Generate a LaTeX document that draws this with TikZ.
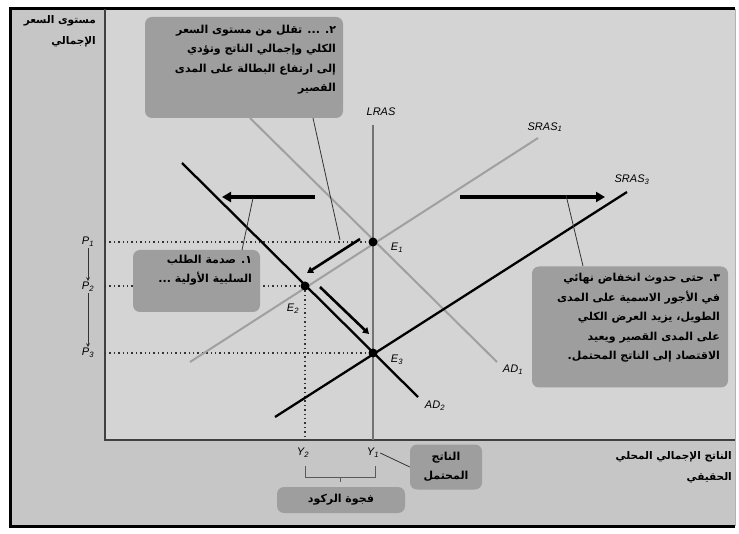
\documentclass[tikz,border=0pt]{standalone}
\usepackage{fontspec}
\usetikzlibrary{arrows.meta}
\newfontfamily\arabicfont[Script=Arabic]{DejaVu Sans}
\newfontfamily\curvefont{Liberation Sans}
\TeXXeTstate=1
\definecolor{plotgray}{RGB}{212,212,212}
\definecolor{stripgray}{RGB}{198,198,198}
\definecolor{boxgray}{RGB}{158,158,158}
\definecolor{lightcurve}{RGB}{160,160,160}
\tikzset{
  axis/.style={draw=black!75,line width=1.8pt},
  darkcurve/.style={line width=2.3pt},
  palecurve/.style={draw=lightcurve,line width=2pt},
  guide/.style={line width=1.4pt,dash pattern=on 1.4pt off 3pt,black!80},
  bigarrow/.style={line width=4pt,-{Triangle[length=9pt,width=10pt]}},
  movearrow/.style={line width=2.6pt,-{Triangle[length=6pt,width=7pt]}},
  pointer/.style={draw=black!80,line width=0.8pt},
  curvelabel/.style={font=\curvefont\itshape\fontsize{11}{11}\selectfont,inner sep=1pt},
  notebox/.style={fill=boxgray,rounded corners=7pt,inner sep=0pt},
  notetext/.style={font=\arabicfont\bfseries\fontsize{11}{19.5}\selectfont,align=right,inner sep=0pt},
  axistext/.style={font=\arabicfont\bfseries\fontsize{10.5}{21}\selectfont,align=right,inner sep=0pt},
  panel/.style={inner sep=0pt,outer sep=0pt,anchor=north west}
}

\begin{document}
\begin{tikzpicture}[x=1pt,y=-1pt]
\useasboundingbox (0,0) rectangle (739,534);
\node[panel,fill=stripgray,minimum width=725pt,minimum height=517pt] (frame) at (10,9) {};
\node[panel,fill=plotgray,minimum width=630pt,minimum height=431pt] (plot) at (105,9) {};
\draw[line width=3pt] (frame.north east) -- (frame.north west) -- (frame.south west) -- (frame.south east);
\draw[black!30,line width=1pt] (frame.north east) -- (frame.south east);
% axes
\coordinate (ytop) at (105,9);
\coordinate (origin) at (105,440);
\coordinate (xend) at (735,440);
\draw[axis] (ytop) -- (origin) -- (xend);
% equilibria
\coordinate (E1) at (373,242);
\coordinate (E2) at (305,286);
\coordinate (E3) at (373,353);
\coordinate (P1) at (105,242);
\coordinate (P2) at (105,286);
\coordinate (P3) at (105,353);
\coordinate (Y2) at (305,440);
\coordinate (Y1) at (373,440);
\draw[guide] (P1) -- (E1);
\draw[guide] (P2) -- (E2);
\draw[guide] (P3) -- (E3);
\draw[guide] (E2) -- (Y2);
% the curves
\coordinate (lras) at (373,125);
\coordinate (sras1a) at (190,362);
\coordinate (sras1b) at (538,138);
\coordinate (ad1a) at (250,118);
\coordinate (ad1b) at (497,362);
\coordinate (sras3a) at (275,417);
\coordinate (sras3b) at (627,192);
\coordinate (ad2a) at (182,163);
\coordinate (ad2b) at (418,397);
\draw[palecurve] (ad1a) -- (ad1b);
\draw[palecurve] (sras1a) -- (sras1b);
\draw[draw=black!55,line width=2.4pt] (lras) -- (Y1);
\draw[darkcurve] (sras3a) -- (sras3b);
\draw[darkcurve] (ad2a) -- (ad2b);
\foreach \e in {E1,E2,E3}
  \fill (\e) circle (4.5pt);
% labels of the curves
\node[curvelabel] (lrastxt) at (381,112) {LRAS};
\node[curvelabel] (sras1txt) at (545,127) {SRAS\textsubscript{1}};
\node[curvelabel] (sras3txt) at (632,180) {SRAS\textsubscript{3}};
\node[curvelabel] (ad1txt) at (513,370) {AD\textsubscript{1}};
\node[curvelabel] (ad2txt) at (435,406) {AD\textsubscript{2}};
\node[curvelabel] (e1txt) at (397,248) {E\textsubscript{1}};
\node[curvelabel] (e2txt) at (293,309) {E\textsubscript{2}};
\node[curvelabel] (e3txt) at (397,360) {E\textsubscript{3}};
\node[curvelabel] (p1txt) at (88,242) {P\textsubscript{1}};
\node[curvelabel] (p2txt) at (88,287) {P\textsubscript{2}};
\node[curvelabel] (p3txt) at (88,353) {P\textsubscript{3}};
\node[curvelabel] (y2txt) at (303,453) {Y\textsubscript{2}};
\node[curvelabel] (y1txt) at (373,453) {Y\textsubscript{1}};
\draw[black!80,line width=0.8pt,-{Stealth[length=4pt,width=4pt]}] (p1txt) -- (p2txt);
\draw[black!80,line width=0.8pt,-{Stealth[length=4pt,width=4pt]}] (p2txt) -- (p3txt);
% shifts
\coordinate (adshift a) at (315,197);
\coordinate (adshift b) at (222,197);
\coordinate (srasshift a) at (460,197);
\coordinate (srasshift b) at (605,197);
\draw[bigarrow] (adshift a) -- (adshift b);
\draw[bigarrow] (srasshift a) -- (srasshift b);
\coordinate (fall a) at (360,239);
\coordinate (fall b) at (307,273);
\coordinate (slide a) at (320,287);
\coordinate (slide b) at (369,334);
\draw[movearrow] (fall a) -- (fall b);
\draw[movearrow] (slide a) -- (slide b);
% the notes
\node[notebox,minimum width=198,minimum height=101] (fallbox) at (244,67.5) {};
\node[notetext,anchor=north east,xshift=-7pt,yshift=-8pt] (falltxt) at (fallbox.north east)
  {\beginR ٢. ... تقلل من مستوى السعر\endR\\
   \beginR الكلي وإجمالي الناتج وتؤدي\endR\\
   \beginR إلى ارتفاع البطالة على المدى\endR\\
   \beginR القصير\endR};
\node[notebox,minimum width=127,minimum height=62] (shockbox) at (196.5,281) {};
\node[notetext,anchor=north east,xshift=-8pt,yshift=-5pt] (shocktxt) at (shockbox.north east)
  {\beginR ١. صدمة الطلب\endR\\
   \beginR السلبية الأولية ...\endR};
\node[notebox,minimum width=196,minimum height=121] (wagebox) at (630,327) {};
\node[notetext,anchor=north east,xshift=-8pt,yshift=-7pt] (wagetxt) at (wagebox.north east)
  {\beginR ٣. حتى حدوث انخفاض نهائي\endR\\
   \beginR في الأجور الاسمية على المدى\endR\\
   \beginR الطويل، يزيد العرض الكلي\endR\\
   \beginR على المدى القصير ويعيد\endR\\
   \beginR الاقتصاد إلى الناتج المحتمل.\endR};
\coordinate (fallfoot) at (313,118);
\coordinate (shockhead) at (242,250);
\coordinate (wagehead) at (583,266);
\draw[pointer] (fallfoot) -- (340,240);
\draw[pointer] (shockhead) -- (253,198);
\draw[pointer] (wagehead) -- (566,195);
% output gap
\node[notebox,minimum width=72,minimum height=45] (potbox) at (446,467) {};
\node[notetext,align=center] (pottxt) at (potbox) {\beginR الناتج\endR\\ \beginR المحتمل\endR};
\draw[pointer] (y1txt.east) -- (potbox.west);
\draw[black!65,line width=1pt] (305,466) -- (305,477) -- (375,477) -- (375,466);
\draw[black!65,line width=1pt] (340,477) -- (340,482);
\node[notebox,minimum width=128,minimum height=26] (gapbox) at (341,500) {};
\node[notetext] (gaptxt) at (gapbox) {\beginR فجوة الركود\endR};
% axis titles
\node[axistext,anchor=north east] (pricetxt) at (96,15)
  {\beginR مستوى السعر\endR\\ \beginR الإجمالي\endR};
\node[axistext,anchor=north east] (gdptxt) at (732,451)
  {\beginR الناتج الإجمالي المحلي\endR\\ \beginR الحقيقي\endR};
\end{tikzpicture}
\end{document}
